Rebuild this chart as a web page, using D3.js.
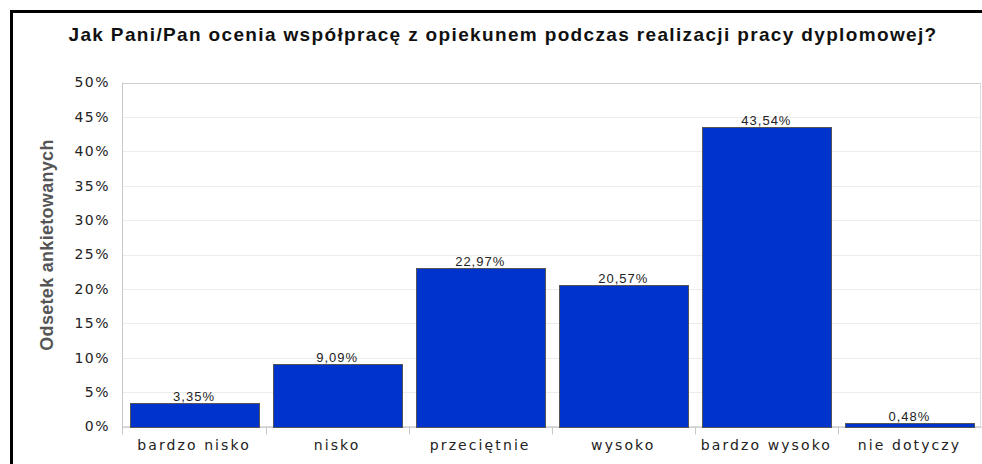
<!DOCTYPE html>
<html>
<head>
<meta charset="utf-8">
<script src="https://cdn.jsdelivr.net/npm/d3@7"></script>
<style>
  body { margin: 0; background: #fff; }
  svg { display: block; }
</style>
</head>
<body>
<div id="chart"></div>
<script>
var categories = ['bardzo nisko', 'nisko', 'przeciętnie', 'wysoko', 'bardzo wysoko', 'nie dotyczy'];
var values = [3.35, 9.09, 22.97, 20.57, 43.54, 0.48];
var yTicks = [0, 5, 10, 15, 20, 25, 30, 35, 40, 45, 50];
var title = 'Jak Pani/Pan ocenia współpracę z opiekunem podczas realizacji pracy dyplomowej?';
var yTitle = 'Odsetek ankietowanych';

var width = 982, height = 464;
var margin = { top: 82.5, right: 1, bottom: 37.5, left: 122.5 };

var svg = d3.select('#chart').append('svg')
    .attr('width', width)
    .attr('height', height);

// black frame (runs off the right and bottom edge)
svg.append('rect')
    .attr('x', 11.5).attr('y', 11.5)
    .attr('width', 1200).attr('height', 800)
    .attr('fill', 'none')
    .attr('stroke', '#000')
    .attr('stroke-width', 3);

var x = d3.scaleBand()
    .domain(categories)
    .range([margin.left, width - margin.right])
    .paddingInner(0.1)
    .paddingOuter(0.05);

var y = d3.scaleLinear()
    .domain([0, 50])
    .range([height - margin.bottom, margin.top]);

// grid
svg.append('g')
    .selectAll('line')
    .data(yTicks)
    .enter()
    .append('line')
    .attr('x1', margin.left)
    .attr('x2', width - margin.right)
    .attr('y1', function (d) { return Math.round(y(d)) + 0.5; })
    .attr('y2', function (d) { return Math.round(y(d)) + 0.5; })
    .attr('stroke', function (d) { return d === 50 ? '#cfcfcf' : '#ececec'; });

// frame lines of plot
svg.append('line')
    .attr('x1', margin.left).attr('x2', margin.left)
    .attr('y1', margin.top).attr('y2', height - margin.bottom + 8)
    .attr('stroke', '#c8c8c8');
svg.append('line')
    .attr('x1', width - margin.right - 0.5).attr('x2', width - margin.right - 0.5)
    .attr('y1', margin.top).attr('y2', height - margin.bottom)
    .attr('stroke', '#e0e0e0');

// y axis labels
var yAxis = d3.axisLeft(y)
    .tickValues(yTicks)
    .tickSize(0)
    .tickPadding(12.5)
    .tickFormat(function (d) { return d + '%'; });
var gy = svg.append('g')
    .attr('transform', 'translate(' + margin.left + ',0)')
    .call(yAxis);
gy.select('.domain').remove();
gy.selectAll('text')
    .attr('font-family', 'DejaVu Sans')
    .attr('font-size', 14)
    .attr('letter-spacing', 1.5)
    .attr('fill', '#222');

// x axis
var xAxis = d3.axisBottom(x).tickSize(0).tickPadding(14);
var gx = svg.append('g')
    .attr('transform', 'translate(0,' + (height - margin.bottom) + ')')
    .call(xAxis);
gx.select('.domain').attr('stroke', '#b8b8b8');
gx.selectAll('text')
    .attr('font-family', 'DejaVu Sans')
    .attr('font-size', 14)
    .attr('letter-spacing', 2.1)
    .attr('fill', '#222');

// separators between categories
var step = x.step();
svg.append('g')
    .selectAll('line')
    .data(categories.slice(1))
    .enter()
    .append('line')
    .attr('x1', function (d) { return Math.round(x(d) - x.paddingInner() * step / 2) + 0.5; })
    .attr('x2', function (d) { return Math.round(x(d) - x.paddingInner() * step / 2) + 0.5; })
    .attr('y1', height - margin.bottom)
    .attr('y2', height - margin.bottom + 8)
    .attr('stroke', '#c8c8c8');

// bars
svg.append('g')
    .selectAll('rect')
    .data(values)
    .enter()
    .append('rect')
    .attr('x', function (d, i) { return Math.round(x(categories[i])) + 0.5; })
    .attr('y', function (d) { return Math.round(y(d)) + 0.5; })
    .attr('width', Math.round(x.bandwidth()))
    .attr('height', function (d) { return Math.round(y(0)) - Math.round(y(d)); })
    .attr('fill', '#0033cc')
    .attr('stroke', '#555');

// value labels
svg.append('g')
    .selectAll('text')
    .data(values)
    .enter()
    .append('text')
    .attr('x', function (d, i) { return x(categories[i]) + x.bandwidth() / 2; })
    .attr('y', function (d) { return y(d) - 2; })
    .attr('text-anchor', 'middle')
    .attr('font-family', 'Liberation Sans')
    .attr('font-size', 13)
    .attr('letter-spacing', 1)
    .attr('fill', '#222')
    .text(function (d) { return d.toFixed(2).replace('.', ',') + '%'; });

// title
svg.append('text')
    .attr('x', 503)
    .attr('y', 41)
    .attr('text-anchor', 'middle')
    .attr('font-family', 'Liberation Sans')
    .attr('font-weight', 'bold')
    .attr('font-size', 19)
    .attr('letter-spacing', 1.35)
    .attr('fill', '#111')
    .text(title);

// y title
svg.append('text')
    .attr('transform', 'translate(53,' + 245 + ') rotate(-90)')
    .attr('text-anchor', 'middle')
    .attr('font-family', 'Liberation Sans')
    .attr('font-weight', 'bold')
    .attr('font-size', 18)
    .attr('letter-spacing', 0.3)
    .attr('fill', '#555')
    .text(yTitle);
</script>
</body>
</html>
